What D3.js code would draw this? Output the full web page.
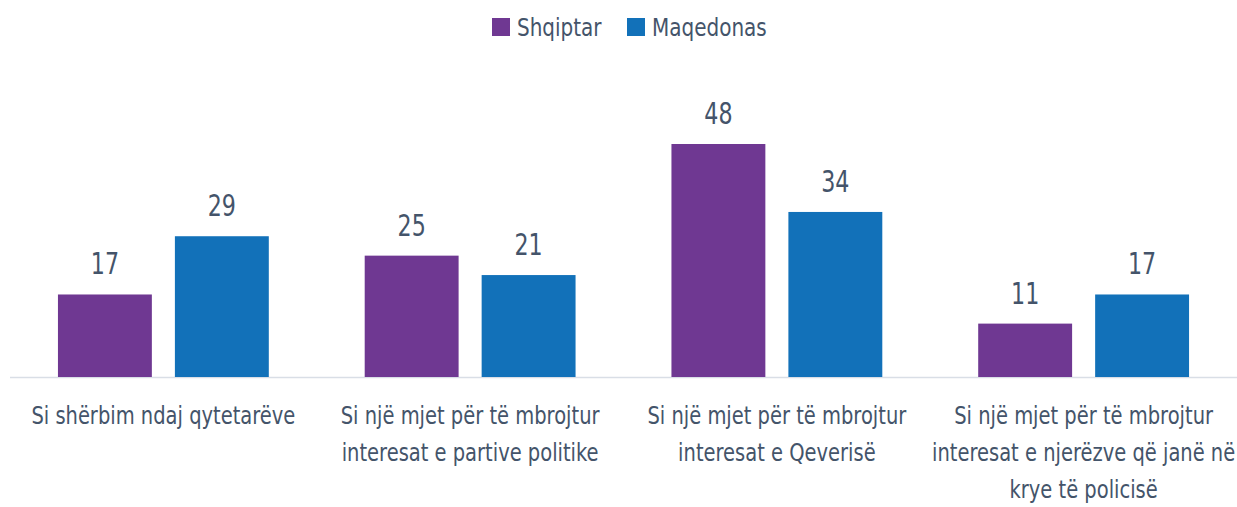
<!DOCTYPE html>
<html>
<head>
<meta charset="utf-8">
<script src="https://cdn.jsdelivr.net/npm/d3@7"></script>
<style>
  body { margin: 0; background: #fff; }
  text { font-family: "DejaVu Sans", sans-serif; fill: #44546a; }
</style>
</head>
<body>
<div class="container"></div>
<script>
// grouped bars, two series
var categories = [
    ["Si shërbim ndaj qytetarëve"],
    ["Si një mjet për të mbrojtur", "interesat e partive politike"],
    ["Si një mjet për të mbrojtur", "interesat e Qeverisë"],
    ["Si një mjet për të mbrojtur", "interesat e njerëzve që janë në", "krye të policisë"]
];
var series = ["Shqiptar", "Maqedonas"];
var shqiptar = [17, 25, 48, 11];
var maqedonas = [29, 21, 34, 17];
var colors = ["#6f3892", "#1271b9"];

var width = 1237;
var height = 507;
var baseY = 377;

// no condensed font installed, so squeeze text horizontally
var squeeze = 0.78;
var squeezeVal = 0.74;
var squeezeLegend = 0.8;

var svg = d3.select(".container")
    .append("svg")
    .attr("width", width)
    .attr("height", height);

var x0 = d3.scaleBand()
    .domain(d3.range(categories.length))
    .range([10, 1237])
    .paddingInner(0)
    .paddingOuter(0);

var x1 = d3.scaleBand()
    .domain(series)
    .range([0, x0.bandwidth()])
    .paddingInner(0.197)
    .paddingOuter(0.41);

var y = d3.scaleLinear()
    .domain([0, 48])
    .range([baseY, 144]);

var rows = categories.map(function(c, i)
{
    return {i: i, values: [shqiptar[i], maqedonas[i]]};
});

// axis line
svg.append("line")
    .attr("x1", 10)
    .attr("x2", width)
    .attr("y1", baseY + 0.5)
    .attr("y2", baseY + 0.5)
    .style("stroke", "#d9dee6")
    .style("stroke-width", 1.5);

var group = svg.selectAll("g.group")
    .data(rows)
    .enter()
    .append("g")
    .attr("class", "group")
    .attr("transform", function(d) { return "translate(" + x0(d.i) + ",0)"; });

var bars = function(d)
{
    return d.values.map(function(v, k) { return {s: series[k], k: k, v: v}; });
};

group.selectAll("rect")
    .data(bars)
    .enter()
    .append("rect")
    .attr("x", function(d) { return x1(d.s); })
    .attr("width", x1.bandwidth())
    .attr("y", function(d) { return y(d.v); })
    .attr("height", function(d) { return baseY - y(d.v); })
    .style("fill", function(d) { return colors[d.k]; });

group.selectAll("g.val")
    .data(bars)
    .enter()
    .append("g")
    .attr("class", "val")
    .attr("transform", function(d)
    {
        return "translate(" + (x1(d.s) + x1.bandwidth() / 2) + "," + (y(d.v) - 20) + ") scale(" + squeezeVal + ",1)";
    })
    .append("text")
    .style("text-anchor", "middle")
    .style("font-size", "30px")
    .text(function(d) { return d.v; });

// category labels
var labels = svg.selectAll("g.cat")
    .data(categories)
    .enter()
    .append("g")
    .attr("class", "cat")
    .attr("transform", function(d, i)
    {
        return "translate(" + (x0(i) + x0.bandwidth() / 2) + ",424) scale(" + squeeze + ",1)";
    })
    .append("text")
    .style("text-anchor", "middle")
    .style("font-size", "25px");

labels.selectAll("tspan")
    .data(function(d) { return d; })
    .enter()
    .append("tspan")
    .attr("x", 0)
    .attr("dy", function(d, j) { return j === 0 ? 0 : 37; })
    .text(function(d) { return d; });

// legend
var legendX = [492, 627];
var legend = svg.selectAll("g.legend")
    .data(series)
    .enter()
    .append("g")
    .attr("class", "legend")
    .attr("transform", function(d, i) { return "translate(" + legendX[i] + ",18)"; });

legend.append("rect")
    .attr("width", 18)
    .attr("height", 18)
    .style("fill", function(d, i) { return colors[i]; });

legend.append("g")
    .attr("transform", "translate(25,18) scale(" + squeezeLegend + ",1)")
    .append("text")
    .style("font-size", "25px")
    .text(function(d) { return d; });
</script>
</body>
</html>
